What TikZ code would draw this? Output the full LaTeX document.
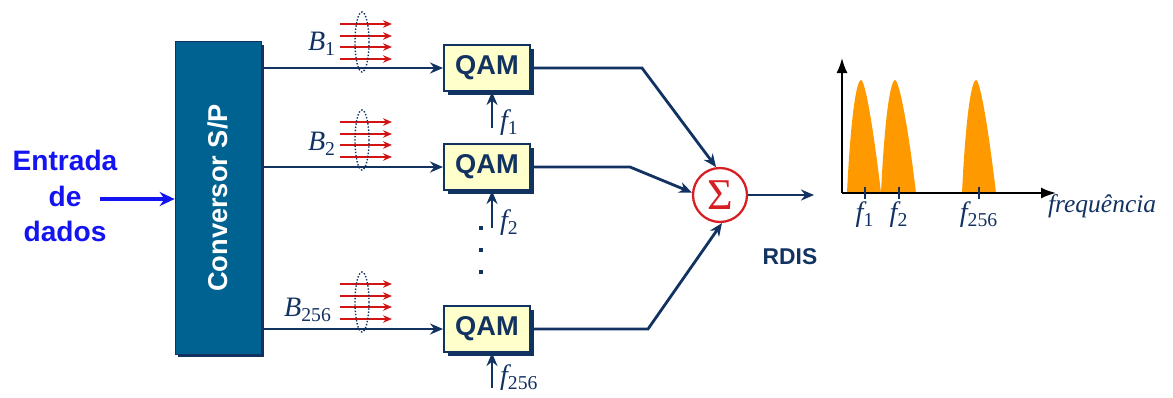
\documentclass[tikz,border=0pt]{standalone}
\usepackage{fontspec}
\setmainfont{Liberation Serif}
\setsansfont{Liberation Sans}
\usetikzlibrary{arrows.meta, positioning, shadows, calc}
\definecolor{convblue}{RGB}{0, 98, 145}
\definecolor{linenavy}{RGB}{18, 50, 98}
\definecolor{qamyellow}{RGB}{255, 255, 204}
\definecolor{sumred}{RGB}{215, 30, 35}
\definecolor{bandred}{RGB}{210, 20, 20}
\definecolor{peakorange}{RGB}{255, 153, 0}
\definecolor{inblue}{RGB}{20, 20, 240}

\begin{document}
\begin{tikzpicture}[
  x=0.02cm, y=-0.02cm,
  convbox/.style={rectangle, draw=linenavy, fill=convblue, text=white,
                  minimum width=1.72cm, minimum height=6.26cm, inner sep=0pt,
                  font=\sffamily\bfseries\fontsize{15.5}{18}\selectfont,
                  drop shadow={shadow xshift=0.06cm, shadow yshift=-0.06cm,
                               fill=linenavy, opacity=1}},
  qambox/.style={rectangle, draw=linenavy, line width=1.1pt, fill=qamyellow, text=linenavy,
                 minimum width=1.72cm, minimum height=0.92cm, inner sep=0pt,
                 font=\sffamily\bfseries\fontsize{15.5}{18}\selectfont,
                 drop shadow={shadow xshift=0.08cm, shadow yshift=-0.08cm,
                              fill=linenavy, opacity=1}},
  sumnode/.style={circle, draw=sumred, line width=1.3pt, fill=white, text=sumred,
                  minimum size=1.08cm, inner sep=0pt, font=\fontsize{25}{25}\selectfont},
  arrow/.style={-{Stealth[length=0.26cm, width=0.22cm]}, line width=1.6pt, color=linenavy},
  inarrow/.style={-{Stealth[length=0.3cm, width=0.28cm]}, line width=2.4pt, color=inblue},
  band/.style={-{Stealth[length=0.18cm, width=0.15cm]}, line width=0.7pt, color=bandred},
  bundle/.style={draw=linenavy, densely dotted, line width=0.8pt},
  lbl/.style={text=linenavy, font=\fontsize{16}{18}\selectfont, inner sep=1pt},
  axis/.style={-{Latex[length=0.3cm, width=0.22cm]}, line width=1pt, color=black},
]
  \useasboundingbox (0,0) rectangle (1173,397);

  % input and converter
  \node[text=inblue, align=center, font=\sffamily\bfseries\fontsize{16}{20}\selectfont]
    (input) at (65,196) {Entrada\\de\\dados};
  \node[convbox] (conv) at (218,198) {\rotatebox{90}{Conversor S/P}};
  \coordinate (instart) at (100,199);
  \draw[inarrow] (instart) -- (conv.west |- instart);

  % modulators
  \node[qambox] (q1) at (487,68) {QAM};
  \node[qambox] (q2) at (487,167) {QAM};
  \node[qambox] (q3) at (487,329) {QAM};

  \draw[arrow] (conv.east |- q1) -- (q1);
  \draw[arrow] (conv.east |- q2) -- (q2);
  \draw[arrow] (conv.east |- q3) -- (q3);

  % bit groups
  \node[lbl] (b1) at (322,44) {{\itshape B}\textsubscript{1}};
  \node[lbl] (b2) at (322,144) {{\itshape B}\textsubscript{2}};
  \node[lbl] (b3) at (308,310) {{\itshape B}\textsubscript{256}};
  \foreach \yc in {42, 140, 302} {
    \foreach \dy in {-18, -6, 5, 17}
      \draw[band] (340,\yc+\dy) -- (392,\yc+\dy);
    \draw[bundle] (362,\yc) ellipse [x radius=7, y radius=30];
  }

  % carriers
  \coordinate (f1) at (492,128);
  \coordinate (f2) at (492,228);
  \coordinate (f3) at (492,388);
  \draw[arrow] (f1) -- (f1 |- q1.south);
  \draw[arrow] (f2) -- (f2 |- q2.south);
  \draw[arrow] (f3) -- (f3 |- q3.south);
  \node[lbl, right=0.12cm of f1, yshift=0.1cm] (f1lab) {{\itshape f}\textsubscript{1}};
  \node[lbl, right=0.12cm of f2, yshift=0.1cm] (f2lab) {{\itshape f}\textsubscript{2}};
  \node[lbl, right=0.12cm of f3, yshift=0.2cm] (f3lab) {{\itshape f}\textsubscript{256}};

  \foreach \yd in {228, 250, 272}
    \fill[linenavy] (479,\yd-2) rectangle (483,\yd+2);

  % sum
  \node[sumnode] (sum) at (720,195) {Σ};
  \draw[arrow] (q1.east) -- (642,68) -- (sum.98);
  \draw[arrow] (q2.east) -- (630,167) -- (sum.175);
  \draw[arrow] (q3.east) -- (648,329) -- (sum.274);
  \coordinate (out) at (814,195);
  \draw[arrow] (sum) -- (out);
  \node[text=linenavy, font=\sffamily\bfseries\fontsize{13}{15}\selectfont]
    (rdis) at (790,257) {RDIS};

  % spectrum
  \coordinate (origin) at (842,193);
  \coordinate (ytop) at (842,58);
  \coordinate (xend) at (1056,193);
  \foreach \a/\p/\b in {847/861/881, 881/895/916, 962/976/996}
    \fill[peakorange] (\a,193) .. controls (\a+4,110) and (\p-4,80) .. (\p,80)
      .. controls (\p+4,80) and (\b-8,125) .. (\b,193) -- cycle;
  \draw[axis] (origin) -- (ytop);
  \draw[axis] (origin) -- (xend);
  \foreach \t/\n in {865/1, 899/2, 979/256} {
    \draw[linenavy, line width=1.4pt] (\t,187) -- (\t,199);
    \node[lbl, anchor=north] (t\n) at (\t,200) {{\itshape f}\textsubscript{\n}};
  }
  \node[lbl, anchor=west, font=\fontsize{14.5}{16}\selectfont] (freq) at (1046,206) {\itshape frequência};
\end{tikzpicture}
\end{document}
